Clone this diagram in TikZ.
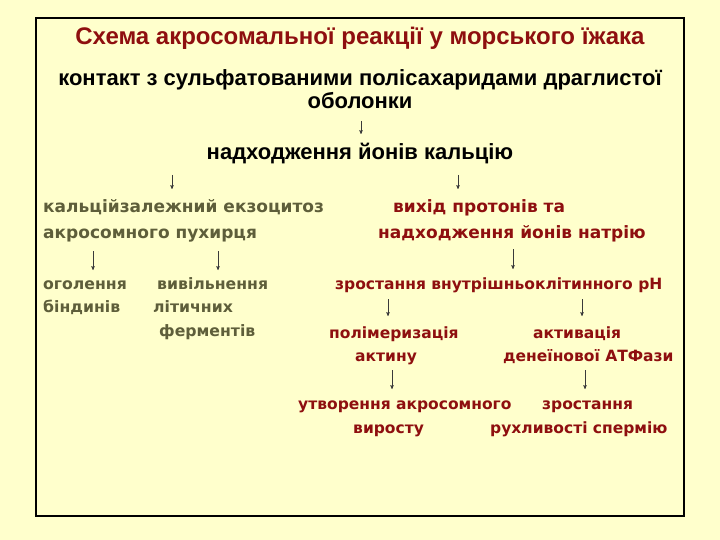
\documentclass[tikz,border=0pt]{standalone}
\usepackage{fontspec}
\setmainfont{Liberation Sans}
\newfontfamily\verd{DejaVu Sans}
\usetikzlibrary{arrows}

\definecolor{slidebg}{HTML}{FFFFCC}
\definecolor{maroon}{HTML}{8E0F0F}
\definecolor{olive}{HTML}{5E5E3A}
\definecolor{arrgray}{HTML}{3A3A3A}

\tikzset{
  ttl/.style={font=\fontsize{24}{28}\selectfont\bfseries,text=maroon,anchor=base,inner sep=0pt},
  blk/.style={font=\fontsize{22}{23}\selectfont\bfseries,text=black,anchor=base,inner sep=0pt},
  ca/.style={font=\verd\fontsize{15.7}{18}\selectfont\bfseries,text=olive,anchor=base west,inner sep=0pt},
  cabig/.style={ca,font=\verd\fontsize{17}{20}\selectfont\bfseries},
  ph/.style={font=\verd\fontsize{15.5}{18}\selectfont\bfseries,text=maroon,anchor=base west,inner sep=0pt},
  phbig/.style={ph,font=\verd\fontsize{17}{20}\selectfont\bfseries},
  arr/.style={->,>=stealth',arrgray,line width=0.5pt}
}

\begin{document}
\begin{tikzpicture}[x=1pt,y=-1pt]
            \fill[slidebg] (0,0) rectangle (720,540);
            \useasboundingbox (0,0) rectangle (720,540);
            \draw[black,line width=1.2pt] (36,18) rectangle (684,516);

            \node[ttl] (title) at (360,45){Схема акросомальної реакції у морського їжака};
            \node[blk,align=center] (kontakt) at (360,109){контакт з сульфатованими полісахаридами драглистої\\оболонки};
            \node[blk] (kaltsii) at (360,160){надходження йонів кальцію};

            % left branch
            \node[cabig] (ekzo1) at (43,213){кальційзалежний екзоцитоз};
            \node[cabig] (ekzo2) at (43,239){акросомного пухирця};
            \node[ca] (ogol1) at (43,289){оголення};
            \node[ca] (ogol2) at (43,312){біндинів};
            \node[ca] (vyvil1) at (157,289){вивільнення};
            \node[ca] (vyvil2) at (153,312){літичних};
            \node[ca] (vyvil3) at (159,336){ферментів};

            % right branch
            \node[phbig] (vykhid1) at (393,213){вихід протонів та};
            \node[phbig] (vykhid2) at (378,239){надходження йонів натрію};
            \node[ph] (ph1) at (335,289){зростання внутрішньоклітинного рН};
            \node[ph] (polim1) at (329,338){полімеризація};
            \node[ph] (polim2) at (355,361){актину};
            \node[ph] (aktyv1) at (533,338){активація};
            \node[ph] (aktyv2) at (503,361){денеїнової АТФази};
            \node[ph] (utvor1) at (298,409){утворення акросомного};
            \node[ph] (utvor2) at (353,433){виросту};
            \node[ph] (rukh1) at (542,409){зростання};
            \node[ph] (rukh2) at (490,433){рухливості спермію};

            % arrows
            \coordinate (a1s) at (361,121); \coordinate (a1e) at (361,134);
            \coordinate (a2s) at (172,175); \coordinate (a2e) at (172,189);
            \coordinate (a3s) at (458,175); \coordinate (a3e) at (458,189);
            \coordinate (a4s) at (93,251);  \coordinate (a4e) at (93,270);
            \coordinate (a5s) at (218,251); \coordinate (a5e) at (218,270);
            \coordinate (a6s) at (513,249); \coordinate (a6e) at (513,269);
            \coordinate (a7s) at (388,299); \coordinate (a7e) at (388,316);
            \coordinate (a8s) at (582,299); \coordinate (a8e) at (582,316);
            \coordinate (a9s) at (392,370); \coordinate (a9e) at (392,389);
            \coordinate (a10s) at (585,370); \coordinate (a10e) at (585,389);
            \foreach \i in {1,...,10}
              \draw[arr] (a\i s) -- (a\i e);
          \end{tikzpicture}
\end{document}
